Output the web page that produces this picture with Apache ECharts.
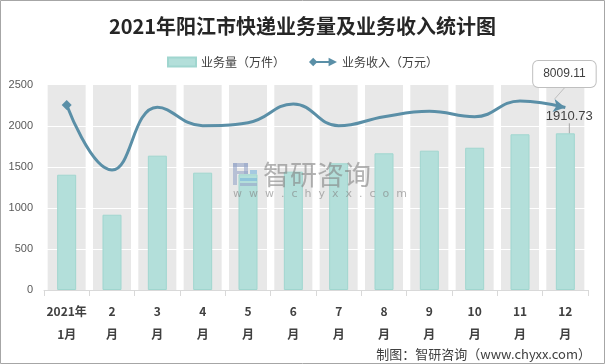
<!DOCTYPE html>
<html>
<head>
<meta charset="utf-8">
<script src="https://cdn.jsdelivr.net/npm/echarts@6/dist/echarts.min.js"></script>
<style>
html,body{margin:0;padding:0;background:#fff;}
#chart{width:605px;height:364px;}
</style>
</head>
<body>
<div id="chart"></div>
<script>
const categories = ['2021年\n1月','2\n月','3\n月','4\n月','5\n月','6\n月','7\n月','8\n月','9\n月','10\n月','11\n月','12\n月'];
const volume = [1406, 918, 1638, 1431, 1411, 1443, 1545, 1667, 1699, 1735, 1899, 1910.73];
const revenue = [8122, 5268, 8021, 7213, 7345, 8166, 7213, 7608, 7845, 7608, 8297, 8009.11];
const yTicks = [0, 500, 1000, 1500, 2000, 2500];
const revenueAxis = [0, 9000];
const seriesNames = ['业务量（万件）', '业务收入（万元）'];

const yMax = yTicks[yTicks.length - 1];
const bgValues = categories.map(() => yMax);
const last = categories.length - 1;
const CJK = '"Noto Sans CJK SC", "Noto Sans", sans-serif';
const LAT = '"Liberation Sans", Arial, sans-serif';
const lineColor = '#5a8fa7';

const barData = volume.map((v, i) => i === last ? {
  value: v,
  label: { show: true, position: 'top', distance: 5, fontSize: 13, color: '#404040', fontFamily: LAT },
  labelLine: { show: true, lineStyle: { color: '#a6a6a6', width: 1 } }
} : v);

const lineData = revenue.map((v, i) => {
  if (i === 0) return { value: v, symbol: 'diamond', symbolSize: 10 };
  if (i === last) return {
    value: v, symbol: 'arrow', symbolSize: [10, 12], symbolRotate: -100,
    label: { show: true, position: 'top', distance: 5, fontSize: 12, color: '#404040',
      fontFamily: LAT,
      backgroundColor: '#fff', borderColor: '#bfbfbf', borderWidth: 1, borderRadius: 5, padding: [7, 10] },
    labelLine: { show: true, lineStyle: { color: '#bfbfbf', width: 1 } }
  };
  return { value: v, symbol: 'none' };
});

const wm = (el) => Object.assign({ z: 50, silent: true }, el);

const chart = echarts.init(document.getElementById('chart'), null, { renderer: 'canvas' });
chart.setOption({
  animation: false,
  backgroundColor: '#fff',
  title: [{
    text: '2021年阳江市快递业务量及业务收入统计图',
    left: 'center', top: 11,
    textStyle: { fontFamily: CJK, fontWeight: 'bold', fontSize: 20, color: '#262626' }
  }, {
    text: '制图：智研咨询（www.chyxx.com）',
    right: 9, top: 343,
    textStyle: { fontFamily: CJK, fontWeight: 'normal', fontSize: 13, color: '#404040' }
  }],
  legend: {
    top: 51, left: 'center', itemGap: 24, itemWidth: 28, itemHeight: 9,
    textStyle: { fontFamily: CJK, fontSize: 12, color: '#404040' },
    data: [
      { name: seriesNames[0], icon: 'rect' },
      { name: seriesNames[1], icon: 'path://M0,4.5 L4.5,0 L9,4.5 L4.5,9 Z M6,3.5 L23,3.5 L23,5.5 L6,5.5 Z M21,0 L30,4.5 L21,9 Z' }
    ]
  },
  grid: { left: 44, right: 17, top: 85, bottom: 74 },
  xAxis: [{
    type: 'category', data: categories,
    axisLine: { lineStyle: { color: '#d9d9d9' } },
    axisTick: { show: true, length: 6, lineStyle: { color: '#d9d9d9' } },
    axisLabel: { interval: 0, fontFamily: CJK, fontWeight: 'bold', fontSize: 12, color: '#404040', lineHeight: 23, margin: 10 }
  }, {
    type: 'category', data: categories, show: false
  }],
  yAxis: [{
    type: 'value', min: yTicks[0], max: yMax, interval: yTicks[1] - yTicks[0],
    axisLine: { show: false }, axisTick: { show: false }, splitLine: { show: false },
    axisLabel: { color: '#595959', fontSize: 11, margin: 11, fontFamily: LAT, formatter: (v) => String(v) }
  }, {
    type: 'value', min: revenueAxis[0], max: revenueAxis[1], show: false, splitLine: { show: false }
  }],
  series: [{
    type: 'bar', xAxisIndex: 1, yAxisIndex: 0, data: bgValues, barWidth: 38, silent: true, z: 1,
    itemStyle: { color: '#e8e8e8' },
    markLine: {
      silent: true, symbol: 'none', z: 1.5, label: { show: false },
      lineStyle: { color: '#ffffff', width: 1, type: 'solid' },
      data: yTicks.slice(1, -1).map(v => ({ yAxis: v }))
    }
  }, {
    name: seriesNames[0], type: 'bar', xAxisIndex: 0, yAxisIndex: 0, barWidth: 19, z: 2,
    itemStyle: { color: '#b3dfda', borderColor: '#a0d6cf', borderWidth: 1 },
    data: barData,
    labelLayout: { dx: 4, dy: -5 }
  }, {
    name: seriesNames[1], type: 'line', xAxisIndex: 0, yAxisIndex: 1, smooth: 0.45, z: 3,
    symbol: 'none',
    lineStyle: { color: lineColor, width: 3 },
    itemStyle: { color: lineColor },
    data: lineData,
    labelLayout: { dx: 5, dy: -7 }
  }],
  graphic: [
    { type: 'rect', z: 100, silent: true, shape: { x: 0.5, y: 0.5, width: 604, height: 363 }, style: { fill: 'none', stroke: '#a6a6a6', lineWidth: 1 } },
    wm({ type: 'rect', shape: { x: 233, y: 163, width: 15, height: 4 }, style: { fill: 'rgba(150,165,200,0.6)' } }),
    wm({ type: 'rect', shape: { x: 233, y: 163, width: 4, height: 22 }, style: { fill: 'rgba(150,165,200,0.6)' } }),
    wm({ type: 'rect', shape: { x: 244, y: 163, width: 4, height: 11 }, style: { fill: 'rgba(150,165,200,0.6)' } }),
    wm({ type: 'rect', shape: { x: 237, y: 171, width: 11, height: 3 }, style: { fill: 'rgba(150,165,200,0.6)' } }),
    wm({ type: 'rect', shape: { x: 250, y: 170, width: 7, height: 4 }, style: { fill: 'rgba(120,180,220,0.6)' } }),
    wm({ type: 'rect', shape: { x: 240, y: 178, width: 17, height: 3 }, style: { fill: 'rgba(120,180,220,0.6)' } }),
    wm({ type: 'rect', shape: { x: 240, y: 183, width: 17, height: 3 }, style: { fill: 'rgba(150,165,200,0.6)' } }),
    wm({ type: 'text', style: { x: 263, y: 175, text: '智研咨询', font: '27px "Noto Sans CJK SC"', fill: 'rgba(130,130,130,0.6)', verticalAlign: 'middle' } }),
    wm({ type: 'text', style: { x: 233, y: 194, text: 'w  w  w  .  c  h  y  x  x  .  c  o  m', font: '11px "DejaVu Sans"', fill: 'rgba(130,130,130,0.6)', verticalAlign: 'middle' } })
  ]
});
</script>
</body>
</html>
